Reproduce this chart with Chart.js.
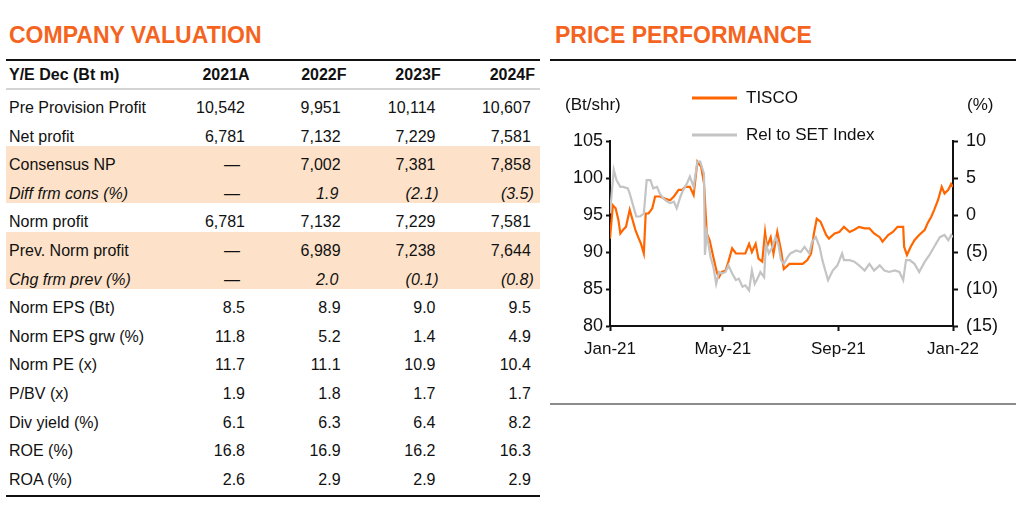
<!DOCTYPE html>
<html lang="en">
<head>
<meta charset="UTF-8">
<title>TISCO - Company valuation and price performance</title>
<script src="https://cdn.jsdelivr.net/npm/chart.js@4.4.1/dist/chart.umd.min.js"></script>
<style>
    body { margin: 0; width: 1024px; height: 518px; background: #fff; overflow: hidden;
           font-family: "Liberation Sans", Arial, sans-serif; color: #111; position: relative; }
    .title { position: absolute; top: 22px; font-size: 23px; font-weight: bold; color: #f5641e; }
    .rule { position: absolute; height: 2px; }
    .band { position: absolute; left: 6px; width: 534px; background: #fde2c9; }
    .cell { position: absolute; font-size: 16px; line-height: 20px; white-space: nowrap; }
    .num { text-align: right; }
    #chartBox { position: absolute; left: 550px; top: 66px; width: 460px; height: 310px; }
</style>
</head>
<body>
    <div class="title" style="left:9px">COMPANY VALUATION</div>
    <div class="title" style="left:555px">PRICE PERFORMANCE</div>

    <div id="table"></div>

    <div class="rule" style="left:550px; top:59px; width:466px; background:#111"></div>
    <div class="rule" style="left:550px; top:403px; width:466px; background:#8c8c8c"></div>

    <div id="chartBox"><canvas id="price"></canvas></div>

<script>
    // ---- table data ----
    const years = ['2021A', '2022F', '2023F', '2024F'];
    const rowLabels = ['Pre Provision Profit', 'Net profit', 'Consensus NP', 'Diff frm cons (%)',
        'Norm profit', 'Prev. Norm profit', 'Chg frm prev (%)', 'Norm EPS (Bt)', 'Norm EPS grw (%)',
        'Norm PE (x)', 'P/BV (x)', 'Div yield (%)', 'ROE (%)', 'ROA (%)'];
    const preProvision = [10542, 9951, 10114, 10607];
    const netProfit = [6781, 7132, 7229, 7581];
    const consensusNP = [null, 7002, 7381, 7858];
    const diffCons = [null, 1.9, -2.1, -3.5];
    const normProfit = [6781, 7132, 7229, 7581];
    const prevNormProfit = [null, 6989, 7238, 7644];
    const chgPrev = [null, 2.0, -0.1, -0.8];
    const normEps = [8.5, 8.9, 9.0, 9.5];
    const normEpsGrw = [11.8, 5.2, 1.4, 4.9];
    const normPe = [11.7, 11.1, 10.9, 10.4];
    const pbv = [1.9, 1.8, 1.7, 1.7];
    const divYield = [6.1, 6.3, 6.4, 8.2];
    const roe = [16.8, 16.9, 16.2, 16.3];
    const roa = [2.6, 2.9, 2.9, 2.9];
    const italicRows = [3, 6];

    // ---- chart data ----
    const tiscoDays = [0, 3, 6, 9, 11, 14, 17, 21, 23, 27, 30, 33, 36, 38, 41, 45, 48, 53, 59, 64, 68, 73, 77, 80, 85,
        89, 93, 97, 100, 103, 106, 110, 114, 116, 119, 123, 126, 130, 134, 139, 144, 148, 151, 155, 158, 162, 165,
        167, 171, 174, 178, 182, 185, 191, 198, 205, 210, 214, 217, 220, 224, 230, 233, 239, 244, 249, 255, 260,
        265, 271, 276, 281, 287, 290, 296, 301, 306, 312, 313, 316, 320, 324, 329, 335, 338, 342, 345, 349, 353,
        356, 360, 363, 365];
    const tiscoPx = [91.8, 96.3, 95.9, 94.3, 92.5, 93.0, 93.4, 95.7, 94.8, 93.0, 92.0, 91.1, 89.8, 95.2, 95.2, 95.9,
        97.5, 97.5, 97.2, 97.0, 97.5, 98.4, 98.4, 98.8, 98.8, 97.7, 102.2, 101.5, 99.3, 92.5, 91.6, 89.3, 87.1, 86.6,
        87.3, 87.5, 88.7, 90.5, 89.8, 89.8, 89.8, 91.1, 90.0, 91.1, 89.1, 88.7, 92.7, 90.7, 92.0, 89.8, 92.7, 90.2,
        87.7, 88.4, 88.4, 88.4, 88.9, 89.8, 92.5, 94.5, 94.1, 92.3, 91.8, 92.5, 92.7, 93.4, 92.7, 93.0, 93.4, 93.2,
        93.2, 92.5, 92.0, 91.4, 92.3, 92.7, 93.4, 93.4, 90.7, 89.6, 90.7, 91.6, 92.3, 93.0, 93.9, 94.8, 95.7, 97.0,
        98.8, 97.9, 98.4, 99.2, 98.8];
    const relDays = [0, 4, 7, 11, 14, 19, 21, 25, 28, 32, 36, 39, 43, 46, 50, 53, 57, 61, 64, 68, 71, 75, 78, 82, 85,
        89, 93, 96, 100, 101, 103, 107, 110, 113, 116, 119, 123, 126, 130, 134, 137, 141, 144, 148, 151, 154, 157,
        160, 164, 166, 169, 173, 176, 179, 182, 185, 189, 192, 198, 203, 207, 212, 215, 219, 223, 226, 230, 232,
        237, 242, 247, 249, 255, 260, 265, 271, 276, 281, 287, 292, 297, 303, 308, 312, 315, 319, 324, 329, 335,
        340, 345, 351, 356, 360, 363, 365];
    const relPx = [95.2, 101.1, 99.7, 98.8, 98.8, 98.6, 97.9, 96.1, 94.8, 94.8, 95.2, 99.7, 99.7, 98.6, 98.8, 97.9,
        97.2, 96.8, 96.6, 96.8, 95.9, 97.5, 98.4, 99.3, 100.2, 98.8, 102.2, 102.2, 100.6, 89.6, 92.5, 89.3, 88.0,
        85.7, 87.3, 87.1, 87.3, 88.2, 87.1, 86.2, 86.4, 85.3, 85.5, 84.8, 87.5, 85.7, 86.4, 87.3, 86.6, 91.1, 89.8,
        90.7, 92.0, 91.1, 88.9, 88.4, 89.3, 89.8, 90.2, 90.0, 90.7, 89.8, 91.4, 92.0, 90.7, 88.9, 87.1, 86.2, 87.5,
        88.2, 89.8, 88.9, 88.9, 88.7, 88.2, 87.5, 88.4, 87.5, 88.2, 87.5, 87.3, 87.5, 87.3, 86.2, 88.9, 88.9, 88.4,
        87.3, 88.7, 89.6, 90.7, 92.0, 92.3, 91.6, 92.3, 92.0];
    const xTickDays = [0, 120, 243, 365];
    const xTickLabels = ['Jan-21', 'May-21', 'Sep-21', 'Jan-22'];
    const unitLeft = '(Bt/shr)';
    const unitRight = '(%)';

    // ---- build the table ----
    const tableRows = [preProvision, netProfit, consensusNP, diffCons, normProfit, prevNormProfit, chgPrev,
        normEps, normEpsGrw, normPe, pbv, divYield, roe, roa];
    const colRight = [245, 340.6, 435.5, 530.8];
    const headRight = [249.6, 346.5, 440.7, 535];
    const firstRow = 108, rowStep = 28.6;
    const tbl = document.getElementById('table');

    function add(html, style, cls) {
        const d = document.createElement('div');
        d.className = cls || 'cell';
        d.style.cssText = style;
        d.innerHTML = html;
        tbl.appendChild(d);
    }

    function fmt(v, r) {
        if (v == null) return null;
        if (r <= 2 || r == 4 || r == 5) return v.toLocaleString('en-US');
        const s = Math.abs(v).toFixed(1);
        return v < 0 ? '(' + s + ')' : s;
    }

    // shaded bands behind the consensus / previous rows
    [[2, 3], [5, 6]].forEach(b => {
        const top = firstRow + b[0] * rowStep - 19;
        const bot = firstRow + b[1] * rowStep + 9.5;
        add('', 'top:' + top + 'px; height:' + (bot - top) + 'px', 'band');
    });

    add('', 'left:6px; top:59px; width:534px; background:#111', 'rule');
    add('', 'left:6px; top:88px; width:534px; background:#d4d4d4', 'rule');
    add('', 'left:6px; top:495px; width:534px; background:#111', 'rule');

    add('Y/E Dec (Bt m)', 'left:9px; top:65px; font-weight:bold');
    years.forEach((y, i) => {
        add(y, 'right:' + (1024 - headRight[i]) + 'px; top:65px; font-weight:bold', 'cell num');
    });

    tableRows.forEach((vals, r) => {
        const cy = firstRow + r * rowStep - 10;
        const it = italicRows.includes(r);
        add(rowLabels[r], 'left:9px; top:' + cy + 'px;' + (it ? 'font-style:italic' : ''));
        vals.forEach((v, c) => {
            const txt = fmt(v, r);
            let right = colRight[c];
            let html = txt;
            if (txt == null) {
                html = '\u2014';
                right -= 5;
            } else if (it) {
                right += 3;
                if (v >= 0) html = txt + '<span style="visibility:hidden">)</span>';
            }
            add(html, 'right:' + (1024 - right) + 'px; top:' + cy + 'px;' +
                (it && txt != null ? 'font-style:italic' : ''), 'cell num');
        });
    });

    // ---- price chart ----
    const legendAndUnits = {
        id: 'legendAndUnits',
        afterDraw(chart) {
            const ctx = chart.ctx, area = chart.chartArea;
            ctx.save();
            ctx.font = '17px "Liberation Sans", Arial';
            ctx.fillStyle = '#111';
            ctx.textBaseline = 'middle';
            ctx.textAlign = 'left';
            ctx.fillText(unitLeft, area.left - 45, area.top - 36);
            ctx.fillText(unitRight, area.right + 14, area.top - 36);
            const rows = [area.top - 43, area.top - 6];
            chart.data.datasets.forEach((ds, i) => {
                ctx.strokeStyle = ds.borderColor;
                ctx.lineWidth = 3;
                ctx.beginPath();
                ctx.moveTo(area.left + 82, rows[i]);
                ctx.lineTo(area.left + 127, rows[i]);
                ctx.stroke();
                ctx.fillText(ds.label, area.left + 136, rows[i]);
            });
            ctx.restore();
        }
    };

    const xFont = { family: '"Liberation Sans", Arial', size: 17 };
    const yFont = { family: '"Liberation Sans", Arial', size: 18 };

    new Chart(document.getElementById('price'), {
        type: 'line',
        data: {
            datasets: [{
                label: 'TISCO',
                data: tiscoDays.map((d, i) => ({ x: d, y: tiscoPx[i] })),
                borderColor: '#ff6600',
                borderWidth: 2.2,
                pointRadius: 0,
                order: 1,
                yAxisID: 'y'
            }, {
                label: 'Rel to SET Index',
                data: relDays.map((d, i) => ({ x: d, y: relPx[i] })),
                borderColor: '#c4c4c4',
                borderWidth: 2.2,
                pointRadius: 0,
                order: 0,
                yAxisID: 'y'
            }]
        },
        options: {
            responsive: true,
            maintainAspectRatio: false,
            animation: false,
            layout: { padding: { top: 75, left: 0, right: 0, bottom: 0 } },
            plugins: { legend: { display: false }, tooltip: { enabled: false } },
            scales: {
                x: {
                    type: 'linear',
                    min: 0,
                    max: 365,
                    afterBuildTicks: s => { s.ticks = xTickDays.map(v => ({ value: v })); },
                    afterFit: s => { s.height = 50; },
                    grid: { drawOnChartArea: false, drawTicks: true, tickLength: 5, tickWidth: 2, tickColor: '#111' },
                    border: { display: true, color: '#111', width: 2 },
                    ticks: {
                        color: '#111', font: xFont, padding: 8, maxRotation: 0, autoSkip: false,
                        callback: v => xTickLabels[xTickDays.indexOf(v)]
                    }
                },
                y: {
                    position: 'left',
                    min: 80,
                    max: 105,
                    afterFit: s => { s.width = 60; },
                    grid: { drawOnChartArea: false, drawTicks: true, tickLength: 4, tickWidth: 2, tickColor: '#111' },
                    border: { display: true, color: '#111', width: 2 },
                    ticks: { stepSize: 5, color: '#111', font: yFont, padding: 3 }
                },
                y2: {
                    position: 'right',
                    min: -15,
                    max: 10,
                    afterFit: s => { s.width = 57; },
                    grid: { drawOnChartArea: false, drawTicks: true, tickLength: 5, tickWidth: 2, tickColor: '#111' },
                    border: { display: true, color: '#111', width: 2 },
                    ticks: {
                        stepSize: 5, color: '#111', font: yFont, padding: 8,
                        callback: v => v < 0 ? '(' + (-v) + ')' : String(v)
                    }
                }
            }
        },
        plugins: [legendAndUnits]
    });
</script>
</body>
</html>
